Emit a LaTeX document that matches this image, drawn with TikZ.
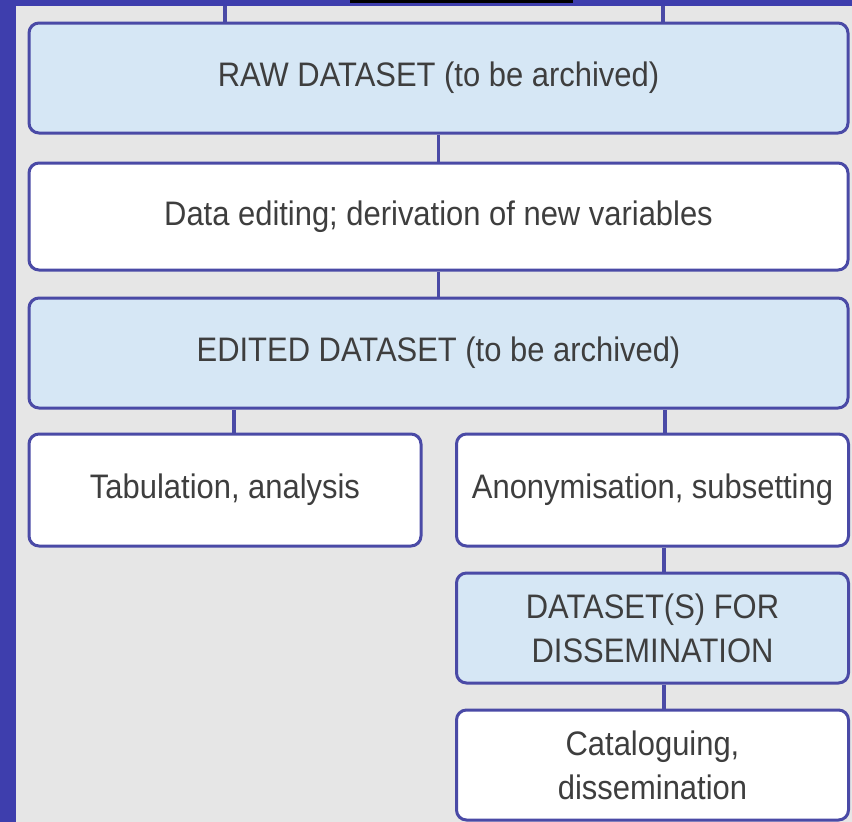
\documentclass[tikz,border=0pt]{standalone}
\usepackage{fontspec}
\setmainfont{Liberation Sans}[FakeStretch=0.91]
\definecolor{bgblue}{HTML}{3E3EAD}
\definecolor{panel}{HTML}{E6E6E6}
\definecolor{edge}{HTML}{4A4AA6}
\definecolor{lblue}{HTML}{D6E7F5}
\definecolor{txt}{HTML}{3E3E3E}
\begin{document}
\begin{tikzpicture}[x=1pt,y=-1pt,
  box/.style={draw=edge,line width=3pt,rounded corners=10pt,fill=white,
    text=txt,font=\fontsize{34}{44}\selectfont,align=center,inner sep=0pt},
  dbox/.style={box,fill=lblue},
  link/.style={draw=edge,line width=3.5pt}]
\useasboundingbox (0,0) rectangle (852,822);
\fill[bgblue] (0,0) rectangle (852,822);
\fill[panel] (16,6) rectangle (852,822);
\fill[black] (350,0) rectangle (573,3);
\node[dbox,minimum width=819pt,minimum height=110pt] (raw) at (438.5,78) {RAW DATASET (to be archived)};
\node[box,minimum width=819pt,minimum height=107pt] (edit) at (438.5,216.5) {Data editing; derivation of new variables};
\node[dbox,minimum width=819pt,minimum height=110pt] (edited) at (438.5,353) {EDITED DATASET (to be archived)};
\node[box,minimum width=392pt,minimum height=112pt] (tab) at (225,490) {Tabulation, analysis};
\node[box,minimum width=392pt,minimum height=112pt] (anon) at (652.5,490) {Anonymisation, subsetting};
\node[dbox,minimum width=392pt,minimum height=110pt] (diss) at (652.5,628) {DATASET(S) FOR\\DISSEMINATION};
\node[box,minimum width=392pt,minimum height=110pt] (cat) at (652.5,765) {Cataloguing,\\dissemination};
\coordinate (t1) at (225,6);
\coordinate (t2) at (663,6);
\draw[link] (t1) -- (t1 |- raw.north);
\draw[link] (t2) -- (t2 |- raw.north);
\draw[link] (raw.south) -- (edit.north);
\draw[link] (edit.south) -- (edited.north);
\draw[link] (tab.north -| 234,0) -- (234,0 |- edited.south);
\draw[link] (anon.north -| 665,0) -- (665,0 |- edited.south);
\draw[link] (anon.south -| 664,0) -- (664,0 |- diss.north);
\draw[link] (diss.south -| 664,0) -- (664,0 |- cat.north);
\end{tikzpicture}
\end{document}
